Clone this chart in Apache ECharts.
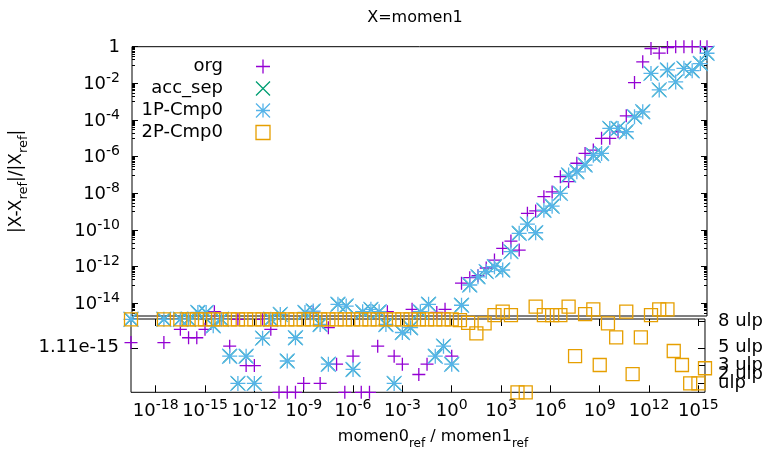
<!DOCTYPE html>
<html>
<head>
<meta charset="utf-8">
<script src="https://cdn.jsdelivr.net/npm/echarts@6/dist/echarts.min.js"></script>
<style>
    html, body { margin: 0; padding: 0; background: #fff; }
    #chart { width: 766px; height: 458px; }
</style>
</head>
<body>
<div id="chart"></div>
<script>
// x = log10(momen0_ref / momen1_ref)
var xExp = [-19.5, -19, -18.5, -18, -17.5, -17, -16.5, -16, -15.5, -15,
    -14.5, -14, -13.5, -13, -12.5, -12, -11.5, -11, -10.5, -10,
    -9.5, -9, -8.5, -8, -7.5, -7, -6.5, -6, -5.5, -5,
    -4.5, -4, -3.5, -3, -2.5, -2, -1.5, -1, -0.5, 0,
    0.5, 1, 1.5, 2, 2.5, 3, 3.5, 4, 4.5, 5,
    5.5, 6, 6.5, 7, 7.5, 8, 8.5, 9, 9.5, 10,
    10.5, 11, 11.5, 12, 12.5, 13, 13.5, 14, 14.5, 15, 15.4];

// |X-Xref|/|Xref| per series (null = no point)
var org = [1.24e-15, null, null, null, 1.24e-15, null, 1.57e-15, 1.36e-15, 1.36e-15, 1.57e-15,
    3.5e-15, 1.82e-15, 1.15e-15, 1.82e-15, 6.66e-16, 6.66e-16, 1.82e-15, 1.57e-15, 0, 0,
    0, 2.22e-16, 3.2e-15, 2.22e-16, 1.61e-15, 7.0e-16, 0, 9.0e-16, 0, 0,
    1.15e-15, 3.5e-15, 9.0e-16, 7.0e-16, 4.7e-15, 4.44e-16, 7.0e-16, 3.2e-15, 4.7e-15, 9.0e-16,
    1.26e-13, 2.5e-13, 3.2e-13, 8.5e-13, 2.3e-12, 1.0e-11, 2.5e-11, 8.1e-12, 8.1e-10, 1.1e-9,
    6.6e-9, 1.2e-8, 8.1e-8, 4.4e-8, 4.4e-7, 1.5e-6, 2.3e-6, 1.0e-5, 1.0e-5, 2.3e-5,
    1.7e-4, 1.1e-2, 0.15, 0.8, 0.45, 0.9, 1, 1, 1, 1, 1];

var cmp1P = [1.82e-15, null, null, null, 1.82e-15, null, 1.82e-15, 1.82e-15, 3.2e-15, 3.2e-15,
    1.66e-15, 1.82e-15, 9.0e-16, 2.22e-16, 9.0e-16, 2.22e-16, 1.35e-15, 1.82e-15, 2.5e-15, 7.8e-16,
    1.36e-15, 3.2e-15, 3.8e-15, 1.69e-15, 7.0e-16, 8.9e-15, 7.1e-15, 5.7e-16, 3.5e-15, 4.7e-15,
    3.5e-15, 1.69e-15, 2.22e-16, 1.49e-15, 1.61e-15, 3.5e-15, 8.9e-15, 9.0e-16, 1.15e-15, 7.0e-16,
    7.9e-15, 1.0e-13, 2.8e-13, 5.4e-13, 1.0e-12, 6.6e-13, 6.6e-12, 6.6e-11, 2.1e-10, 7.1e-11,
    1.2e-9, 2.0e-9, 1.0e-8, 1.0e-7, 1.5e-7, 3.5e-7, 1.2e-6, 1.5e-6, 3.5e-5, 3.5e-5,
    2.3e-5, 1.5e-4, 2.8e-4, 3.5e-2, 4.4e-3, 5.4e-2, 1.2e-2, 6.6e-2, 4.9e-2, 0.12, 0.44];

// acc_sep sits exactly under 1P-Cmp0 in the picture
var accSep = cmp1P;

var cmp2P = [1.82e-15, null, null, null, 1.82e-15, null, 1.82e-15, 1.82e-15, 1.82e-15, 1.82e-15,
    1.82e-15, 1.82e-15, 1.82e-15, 1.82e-15, 1.82e-15, 1.82e-15, 1.82e-15, 1.82e-15, 1.82e-15, 1.82e-15,
    1.82e-15, 1.82e-15, 1.82e-15, 1.82e-15, 1.82e-15, 1.82e-15, 1.82e-15, 1.82e-15, 1.82e-15, 1.82e-15,
    1.82e-15, 1.82e-15, 1.82e-15, 1.82e-15, 1.82e-15, 1.82e-15, 1.82e-15, 1.82e-15, 1.82e-15, 1.82e-15,
    1.8e-15, 1.73e-15, 1.47e-15, 1.72e-15, 2.3e-15, 3.5e-15, 2.3e-15, 0, 0, 6.6e-15,
    2.3e-15, 2.3e-15, 2.3e-15, 6.6e-15, 9.0e-16, 2.6e-15, 4.7e-15, 6.8e-16, 1.72e-15, 1.37e-15,
    3.5e-15, 4.55e-16, 1.37e-15, 2.3e-15, 4.7e-15, 4.7e-15, 1.03e-15, 6.8e-16, 2.22e-16, 2.22e-16, 6.0e-16];

var xTicks = [-18, -15, -12, -9, -6, -3, 0, 3, 6, 9, 12, 15];
var yTicks = [0, -2, -4, -6, -8, -10, -12, -14];
var ulpTicks = [1, 2, 3, 5, 8];
// the ulp labels overlap, so they are spread over axes that each hold non-touching ones
var ulpLabelSets = [[1, 5], [3], [2, 8]];

var ULP = 2.22e-16;
var SPLIT = 2.0e-15;     // values below go into the linear ulp panel
var X_MIN = -19.5, X_MAX = 15.4;
var Y_MIN = -14.69;
var ULP_MAX = 8.23;
var FONT = 'DejaVu Sans';

// minor log ticks: 10^m * k for odd m
var yMinor = [];
for (var m = -15; m <= -1; m += 2) {
    for (var k = 1; k <= 9; k++) {
        var t = m + Math.log10(k);
        if (t > Y_MIN) yMinor.push(t);
    }
}

function supRich(size) {
    return {
        b: { fontSize: size, fontFamily: FONT, color: '#000', verticalAlign: 'bottom', lineHeight: size + 2 },
        s: { fontSize: Math.round(size * 0.78), fontFamily: FONT, color: '#000', verticalAlign: 'bottom',
            lineHeight: Math.round(size * 0.8), padding: [0, 0, Math.round(size * 0.45), 0] }
    };
}
function subRich(size) {
    return {
        b: { fontSize: size, fontFamily: FONT, color: '#000', verticalAlign: 'bottom', lineHeight: size + 2,
            padding: [0, 0, Math.round(size * 0.3), 0] },
        s: { fontSize: Math.round(size * 0.78), fontFamily: FONT, color: '#000', verticalAlign: 'bottom',
            lineHeight: Math.round(size * 0.85) }
    };
}

function upperPart(vals) {
    var out = [];
    vals.forEach(function (v, i) {
        if (v != null && v >= SPLIT) out.push([xExp[i], Math.log10(v)]);
    });
    return out;
}

function lowerPart(vals) {
    var out = [];
    vals.forEach(function (v, i) {
        if (v != null && v < SPLIT) out.push([xExp[i], v / ULP]);
    });
    return out;
}

var SQUARE = 'path://M0,0H10V10H0Z';
var marks = [
    { name: 'org', vals: org, symbol: 'path://M0,5H10M5,0V10', size: 13, color: '#9400d3' },
    { name: 'acc_sep', vals: accSep, symbol: 'path://M0,0L10,10M0,10L10,0', size: 13, color: '#009e73' },
    { name: '1P-Cmp0', vals: cmp1P, symbol: 'path://M0,5H10M5,0V10M0,0L10,10M0,10L10,0', size: 15, color: '#56b4e9' },
    { name: '2P-Cmp0', vals: cmp2P, symbol: SQUARE, size: 13, color: '#e69f00' }
];

var series = [];
marks.forEach(function (mk) {
    var style = { color: 'none', borderColor: mk.color, borderWidth: 1.3, opacity: 1 };
    series.push({
        name: mk.name, type: 'scatter', xAxisIndex: 0, yAxisIndex: 0,
        symbol: mk.symbol, symbolSize: mk.size, itemStyle: style, clip: false,
        data: upperPart(mk.vals)
    });
    series.push({
        name: mk.name, type: 'scatter', xAxisIndex: 1, yAxisIndex: 4,
        symbol: mk.symbol, symbolSize: mk.size, itemStyle: style, clip: false,
        data: lowerPart(mk.vals)
    });
});

var chart = echarts.init(document.getElementById('chart'));

var noLine = { show: false, onZero: false };
var tickStyle = { color: '#000', width: 1 };

var yAxes = [
    { gridIndex: 0, type: 'value', min: Y_MIN, max: 0, position: 'left',
        axisLine: noLine, splitLine: { show: false },
        axisTick: { inside: true, length: 6, customValues: yTicks, lineStyle: tickStyle },
        axisLabel: { customValues: yTicks, margin: 12,
            formatter: function (v) { return v === 0 ? '{b|1}' : '{b|10}{s|' + v + '}'; }, rich: supRich(18) },
        name: '{b||X-X}{s|ref}{b||/|X}{s|ref}{b||}',
        nameLocation: 'middle', nameGap: 102,
        nameTextStyle: { rich: subRich(17) } },
    { gridIndex: 0, type: 'value', min: Y_MIN, max: 0, position: 'left',
        axisLine: noLine, splitLine: { show: false }, axisLabel: { show: false },
        axisTick: { inside: true, length: 3, customValues: yMinor, lineStyle: tickStyle } },
    { gridIndex: 0, type: 'value', min: Y_MIN, max: 0, position: 'right',
        axisLine: noLine, splitLine: { show: false }, axisLabel: { show: false },
        axisTick: { inside: true, length: 6, customValues: yTicks, lineStyle: tickStyle } },
    { gridIndex: 0, type: 'value', min: Y_MIN, max: 0, position: 'right',
        axisLine: noLine, splitLine: { show: false }, axisLabel: { show: false },
        axisTick: { inside: true, length: 3, customValues: yMinor, lineStyle: tickStyle } },
    { gridIndex: 1, type: 'value', min: 0, max: ULP_MAX, position: 'left',
        axisLine: noLine, splitLine: { show: false },
        axisTick: { inside: true, length: 7, customValues: [5], lineStyle: tickStyle },
        axisLabel: { customValues: [5], margin: 12, fontFamily: FONT, fontSize: 18, color: '#000',
            formatter: function () { return '1.11e-15'; } } },
    { gridIndex: 1, type: 'value', min: 0, max: ULP_MAX, position: 'right',
        axisLine: noLine, splitLine: { show: false }, axisLabel: { show: false },
        axisTick: { inside: true, length: 7, customValues: ulpTicks, lineStyle: tickStyle } }
];
ulpLabelSets.forEach(function (set) {
    yAxes.push({ gridIndex: 1, type: 'value', min: 0, max: ULP_MAX, position: 'right',
        axisLine: noLine, splitLine: { show: false }, axisTick: { show: false },
        axisLabel: { customValues: set, margin: 13, fontFamily: FONT, fontSize: 18, color: '#000',
            showMinLabel: true, showMaxLabel: true,
            formatter: function (v) { return v === 1 ? 'ulp' : v + ' ulp'; } } });
});

chart.setOption({
    animation: false,
    backgroundColor: '#fff',
    title: {
        text: 'X=momen1',
        left: 410, top: 5, textAlign: 'center',
        textStyle: { fontFamily: FONT, fontSize: 16, fontWeight: 'normal', color: '#000' }
    },
    legend: {
        orient: 'vertical', align: 'right',
        left: 123, top: 57, padding: 0,
        itemWidth: 70, itemHeight: 14, itemGap: 3,
        selectedMode: false,
        itemStyle: { borderWidth: 1.3 },
        textStyle: { fontFamily: FONT, fontSize: 18, color: '#000', width: 100, lineHeight: 18 },
        data: ['org', 'acc_sep', '1P-Cmp0', { name: '2P-Cmp0', icon: SQUARE }]
    },
    grid: [
        { left: 131, right: 59, top: 46.7, height: 269.3, show: true, borderColor: '#000', borderWidth: 1 },
        { left: 131, right: 59, top: 319, height: 73.3, show: true, borderColor: '#000', borderWidth: 1 }
    ],
    xAxis: [
        { gridIndex: 0, type: 'value', min: X_MIN, max: X_MAX,
            axisLine: noLine, axisTick: { show: false }, axisLabel: { show: false }, splitLine: { show: false } },
        { gridIndex: 1, type: 'value', min: X_MIN, max: X_MAX, position: 'bottom',
            axisLine: noLine, splitLine: { show: false },
            axisTick: { inside: true, length: 7, customValues: xTicks, lineStyle: tickStyle },
            axisLabel: { customValues: xTicks, margin: 8, formatter: function (v) { return '{b|10}{s|' + v + '}'; },
                rich: supRich(18) },
            name: '{b|momen0}{s|ref}{b| / momen1}{s|ref}',
            nameLocation: 'middle', nameGap: 40,
            nameTextStyle: { rich: subRich(16), padding: [0, 0, 0, 30] } },
        { gridIndex: 1, type: 'value', min: X_MIN, max: X_MAX, position: 'top',
            axisLine: noLine, splitLine: { show: false }, axisLabel: { show: false },
            axisTick: { inside: true, length: 7, customValues: xTicks, lineStyle: tickStyle } }
    ],
    yAxis: yAxes,
    series: series
});
</script>
</body>
</html>
